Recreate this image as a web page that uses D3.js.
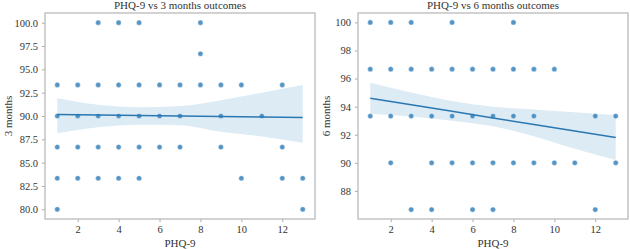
<!DOCTYPE html>
<html lang="en">
  <head>
    <meta charset="UTF-8" />
    <title>PHQ-9 vs outcomes</title>
    <script src="https://cdn.jsdelivr.net/npm/d3@7"></script>
    <style>
      body { margin: 0; background: #fff; }
      svg text { font-family: "Liberation Serif", "DejaVu Serif", serif; fill: #333; }
    </style>
  </head>
  <body>
    <svg id="svg"></svg>
  </body>
  <script>
    // scatter data, 3 months: [PHQ-9, outcome]
    const points3 = [
      [3, 100], [4, 100], [5, 100], [8, 100],
      [8, 96.67],
      [1, 93.33], [2, 93.33], [3, 93.33], [4, 93.33], [5, 93.33], [6, 93.33], [7, 93.33], [8, 93.33], [9, 93.33], [10, 93.33], [12, 93.33],
      [1, 90], [2, 90], [3, 90], [4, 90], [5, 90], [6, 90], [7, 90], [9, 90], [11, 90],
      [1, 86.67], [2, 86.67], [3, 86.67], [4, 86.67], [5, 86.67], [6, 86.67], [7, 86.67], [9, 86.67], [12, 86.67],
      [1, 83.33], [2, 83.33], [3, 83.33], [4, 83.33], [5, 83.33], [10, 83.33], [12, 83.33], [13, 83.33],
      [1, 80], [13, 80]
    ];
    // scatter data, 6 months
    const points6 = [
      [1, 100], [2, 100], [3, 100], [5, 100], [8, 100],
      [1, 96.67], [2, 96.67], [3, 96.67], [4, 96.67], [5, 96.67], [6, 96.67], [7, 96.67], [8, 96.67], [9, 96.67], [10, 96.67],
      [1, 93.33], [2, 93.33], [3, 93.33], [4, 93.33], [5, 93.33], [6, 93.33], [7, 93.33], [8, 93.33], [9, 93.33], [12, 93.33], [13, 93.33],
      [2, 90], [4, 90], [5, 90], [6, 90], [7, 90], [8, 90], [9, 90], [10, 90], [11, 90], [13, 90],
      [3, 86.67], [4, 86.67], [6, 86.67], [7, 86.67], [12, 86.67]
    ];

    // regression fit and confidence band
    const bandX = [1, 3, 5, 7, 9, 11, 13];
    const fit3 = [90.15, 90.1, 90.05, 90.0, 89.95, 89.9, 89.85];
    const lo3 = [88.15, 88.8, 89.05, 89.0, 88.3, 87.8, 87.14];
    const hi3 = [91.9, 91.2, 90.93, 91.07, 91.7, 92.5, 93.32];
    const fit6 = [94.6, 94.13, 93.67, 93.2, 92.73, 92.27, 91.8];
    const lo6 = [93.5, 93.3, 93.0, 92.6, 91.9, 91.0, 90.2];
    const hi6 = [95.7, 95.0, 94.4, 94.0, 93.8, 93.6, 93.4];

    const xTicks = [2, 4, 6, 8, 10, 12];
    const yTicks3 = [80, 82.5, 85, 87.5, 90, 92.5, 95, 97.5, 100];
    const yTicks6 = [88, 90, 92, 94, 96, 98, 100];

    const svg = d3.select("#svg").attr("width", 630).attr("height", 249);

    function panel(opts) {
      const x = d3.scaleLinear().domain([0.4, 13.6]).range([opts.left, opts.right]);
      const y = d3.scaleLinear().domain(opts.yDomain).range([219, 13]);
      const g = svg.append("g");

      const area = d3.area()
        .x((d, i) => x(bandX[i]))
        .y0((d, i) => y(opts.lo[i]))
        .y1((d, i) => y(opts.hi[i]))
        .curve(d3.curveMonotoneX);
      g.append("path").datum(bandX).attr("d", area)
        .attr("fill", "#ddebf5");

      g.selectAll("circle").data(opts.points).join("circle")
        .attr("cx", d => x(d[0])).attr("cy", d => y(d[1]))
        .attr("r", 2.6)
        .attr("fill", "#2a7ab8").attr("fill-opacity", 0.8)
        .attr("stroke", "#ffffff").attr("stroke-width", 0.4);

      const line = d3.line().x((d, i) => x(bandX[i])).y(d => y(d));
      g.append("path").datum(opts.fit).attr("d", line)
        .attr("fill", "none").attr("stroke", "#2b78b1").attr("stroke-width", 1.5);

      const xa = g.append("g").attr("transform", "translate(0,219)")
        .call(d3.axisBottom(x).tickValues(xTicks).tickSize(3).tickPadding(4));
      const ya = g.append("g").attr("transform", `translate(${opts.left},0)`)
        .call(d3.axisLeft(y).tickValues(opts.yTicks).tickSize(3).tickPadding(4)
          .tickFormat(opts.fmt));
      [xa, ya].forEach(a => {
        a.select(".domain").remove();
        a.selectAll("line").attr("stroke", "#aaa");
        a.selectAll("text").attr("font-size", 10.5).attr("fill", "#333")
          .style("font-family", '"Liberation Serif", serif');
      });

      g.append("rect").attr("x", opts.left).attr("y", 13)
        .attr("width", opts.right - opts.left).attr("height", 206)
        .attr("fill", "none").attr("stroke", "#bbbbbb").attr("stroke-width", 1.3);

      g.append("text").attr("x", (opts.left + opts.right) / 2).attr("y", 9)
        .attr("text-anchor", "middle").attr("font-size", 11).text(opts.title);
      g.append("text").attr("x", (opts.left + opts.right) / 2).attr("y", 247)
        .attr("text-anchor", "middle").attr("font-size", 11).text("PHQ-9");
      g.append("text")
        .attr("transform", `translate(${opts.yLabelX},116) rotate(-90)`)
        .attr("text-anchor", "middle").attr("font-size", 11).text(opts.yLabel);
    }

    panel({
      left: 45, right: 315, yDomain: [78.96, 101.04], points: points3,
      fit: fit3, lo: lo3, hi: hi3, yTicks: yTicks3, fmt: d3.format(".1f"),
      title: "PHQ-9 vs 3 months outcomes", yLabel: "3 months", yLabelX: 12
    });
    panel({
      left: 358, right: 628, yDomain: [86.0, 100.67], points: points6,
      fit: fit6, lo: lo6, hi: hi6, yTicks: yTicks6, fmt: d3.format("d"),
      title: "PHQ-9 vs 6 months outcomes", yLabel: "6 months", yLabelX: 330
    });
  </script>
</html>
